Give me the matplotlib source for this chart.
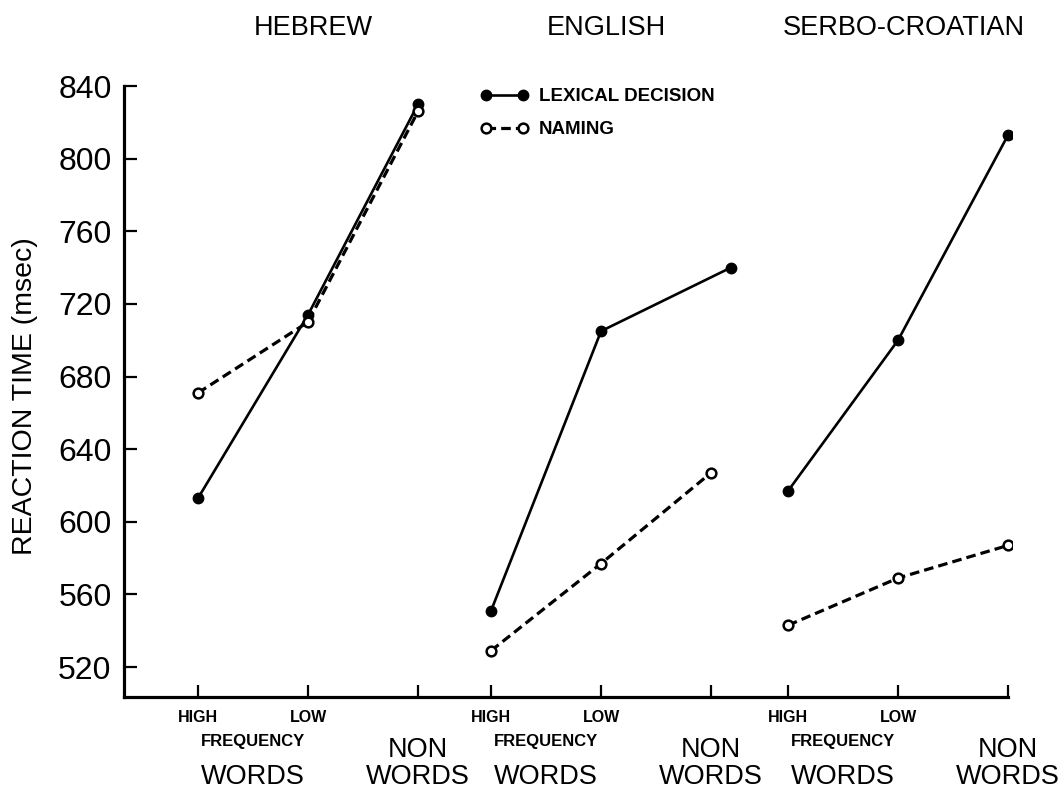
import numpy as np
import matplotlib
matplotlib.use('Agg')
import matplotlib.pyplot as plt
from matplotlib.transforms import blended_transform_factory

plt.rcParams['font.family'] = ['Liberation Sans', 'DejaVu Sans']

# data (reaction time, msec)
languages = ['HEBREW', 'ENGLISH', 'SERBO-CROATIAN']
conditions = ['HIGH', 'LOW', 'NON WORDS']
lexical = [[613, 714, 830],
           [551, 705, 740],
           [617, 700, 813]]
naming = [[671, 710, 826],
          [529, 577, 627],
          [543, 569, 587]]

# layout of the three panels on one shared axis
group_start = [0.0, 2.664, 5.364]
cond_pos = [0.0, 1.0, 2.0]
lexical_shift = [[0, 0, 0], [0, 0, 0.18], [0, 0, 0]]

fig = plt.figure(figsize=(10.59, 7.93), dpi=100)
ax = fig.add_axes([124 / 1059, 1 - 697 / 793, 888 / 1059, 614.6 / 793])

for i in range(3):
    xs = np.array(cond_pos) + group_start[i]
    xl = xs + np.array(lexical_shift[i])
    ax.plot(xl, lexical[i], color='black', lw=1.9, marker='o', ms=7.5,
            mfc='black', mec='black', label='LEXICAL DECISION' if i == 0 else None)
    ax.plot(xs, naming[i], color='black', lw=2.3, ls=(0, (3, 1.6)), marker='o', ms=7,
            mfc='white', mec='black', mew=1.8, label='NAMING' if i == 0 else None)

ax.set_xlim(-0.673, 7.4)
ax.set_ylim(503.5, 842)

for s in ['top', 'right']:
    ax.spines[s].set_visible(False)
for s in ['left', 'bottom']:
    ax.spines[s].set_linewidth(2.3)
ax.spines['bottom'].set_bounds(-0.673, 7.364)
ax.spines['left'].set_bounds(503.5, 840)

ax.set_yticks(np.arange(520, 841, 40))
ax.tick_params(axis='y', direction='in', length=9, width=1.6, labelsize=23, pad=9)
xt = [g + c for g in group_start for c in cond_pos]
ax.set_xticks(xt)
ax.set_xticklabels([])
ax.tick_params(axis='x', direction='in', length=9, width=1.6)

trans = blended_transform_factory(ax.transData, ax.transAxes)
for i, lang in enumerate(languages):
    g = group_start[i]
    ax.text(g + 1.05, 1.088, lang, transform=trans, ha='center', va='center',
            fontsize=19.5)
    ax.text(g, -0.034, 'HIGH', transform=trans, ha='center', va='center',
            fontsize=11.5, fontweight='bold')
    ax.text(g + 1, -0.034, 'LOW', transform=trans, ha='center', va='center',
            fontsize=11.5, fontweight='bold')
    ax.text(g + 0.5, -0.072, 'FREQUENCY', transform=trans, ha='center', va='center',
            fontsize=12, fontweight='bold')
    ax.text(g + 0.5, -0.13, 'WORDS', transform=trans, ha='center', va='center',
            fontsize=19.5)
    ax.text(g + 2, -0.087, 'NON', transform=trans, ha='center', va='center',
            fontsize=19.5)
    ax.text(g + 2, -0.13, 'WORDS', transform=trans, ha='center', va='center',
            fontsize=19.5)

fig.text(25 / 1059, 0.5, 'REACTION TIME (msec)', rotation=90, ha='center',
         va='center', fontsize=20.5)

ax.legend(loc='upper left', bbox_to_anchor=(0.382, 1.018), frameon=False,
          handlelength=2.6, numpoints=2, labelspacing=0.85, handletextpad=0.55,
          prop={'weight': 'bold', 'size': 13.5})

fig.savefig('out.png', dpi=100)
